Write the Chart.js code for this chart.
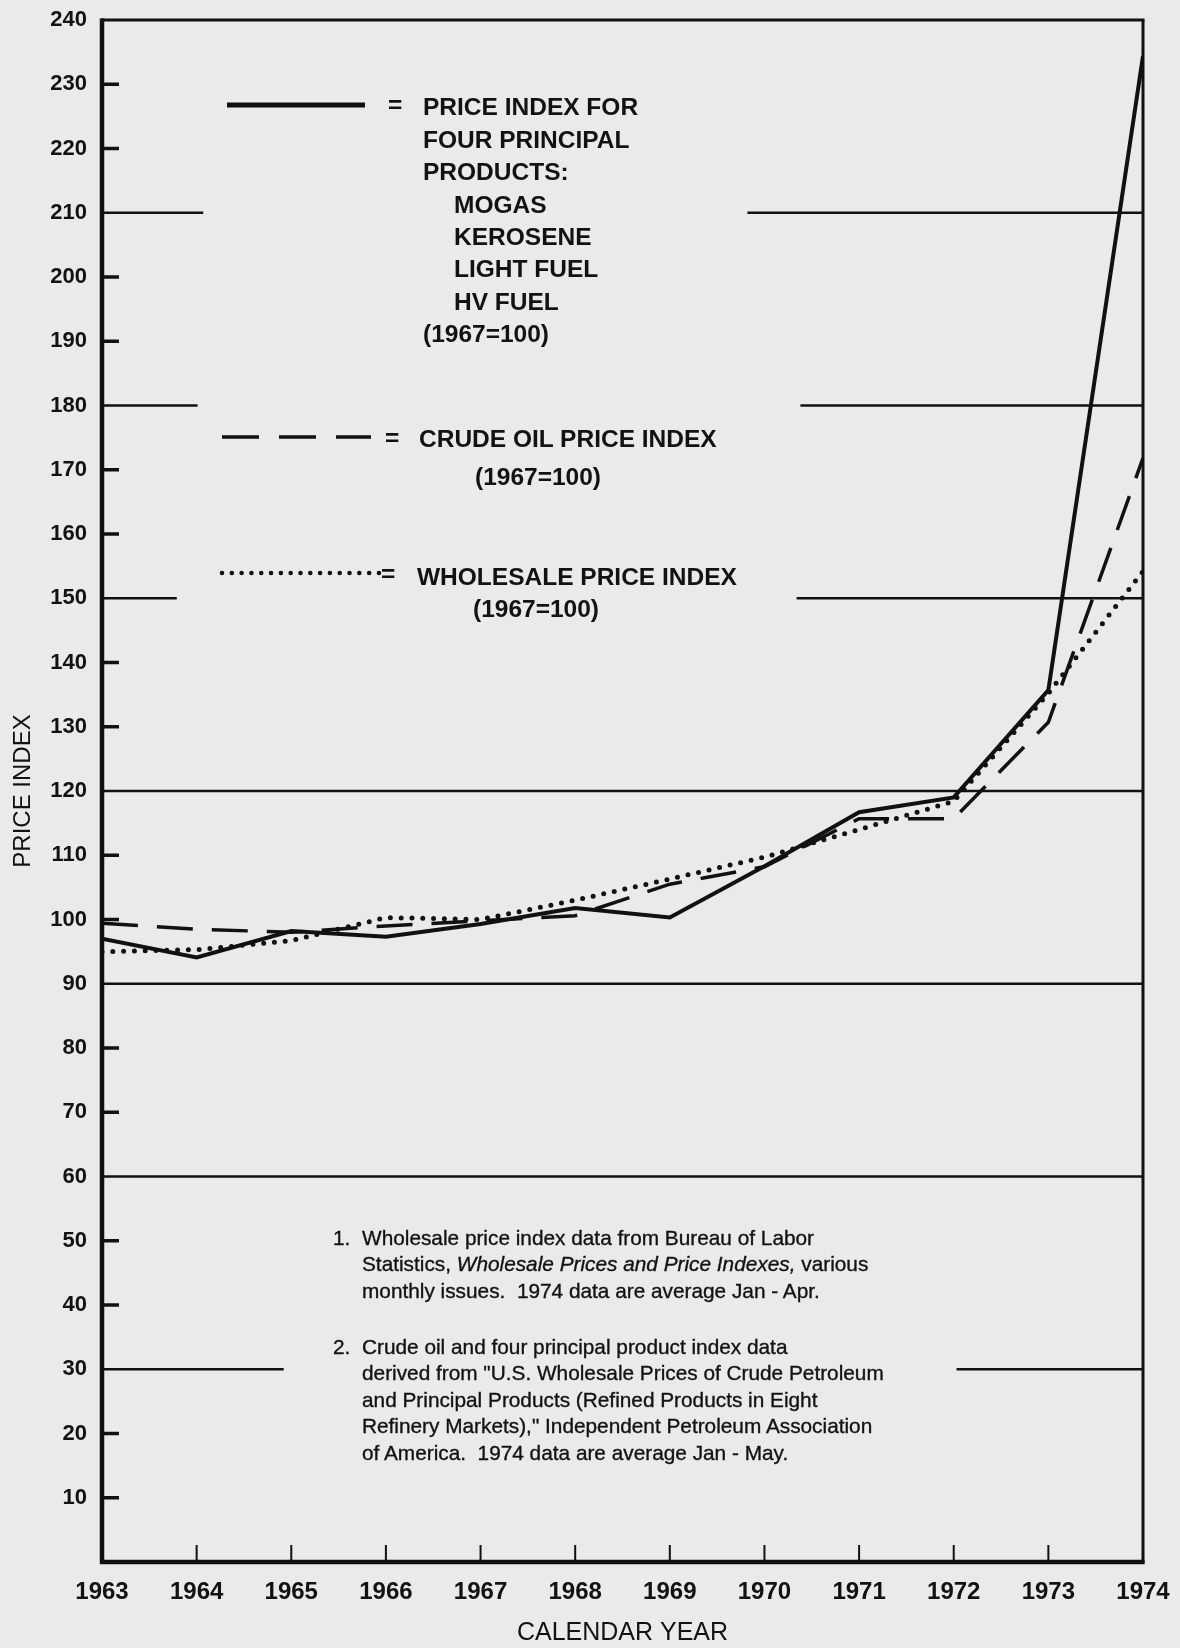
<!DOCTYPE html>
<html>
<head>
<meta charset="utf-8">
<script src="https://cdn.jsdelivr.net/npm/chart.js@4.4.1/dist/chart.umd.min.js"></script>
<style>
html,body{margin:0;padding:0;background:#eaeaea;}
#wrap{position:relative;width:1180px;height:1648px;overflow:hidden;background:#eaeaea;}
#c{position:absolute;left:0;top:0;}
.t{position:absolute;font-family:"Liberation Sans",Arial,Helvetica,sans-serif;color:#121212;white-space:nowrap;}
.leg{font-size:24.5px;font-weight:bold;line-height:32.4px;}
.fn{font-size:20.8px;line-height:26.5px;-webkit-text-stroke:0.35px #121212;}
svg{position:absolute;left:0;top:0;}
</style>
</head>
<body>
<div id="wrap">
<canvas id="c" width="1180" height="1648"></canvas>

<svg width="1180" height="700">
  <line x1="227" y1="105" x2="365" y2="105" stroke="#111" stroke-width="5"/>
  <line x1="222" y1="437" x2="371" y2="437" stroke="#111" stroke-width="3.5" stroke-dasharray="37 20"/>
  <line x1="222" y1="573" x2="379.2" y2="573" stroke="#111" stroke-width="4.6" stroke-linecap="round" stroke-dasharray="0 9.81"/>
</svg>

<div class="t leg" style="left:388px;top:89px;">=</div>
<div class="t leg" style="left:423px;top:91.3px;">PRICE INDEX FOR<br>FOUR PRINCIPAL<br>PRODUCTS:<br><span style="padding-left:31px">MOGAS</span><br><span style="padding-left:31px">KEROSENE</span><br><span style="padding-left:31px">LIGHT FUEL</span><br><span style="padding-left:31px">HV FUEL</span><br>(1967=100)</div>

<div class="t leg" style="left:385px;top:422px;">=</div>
<div class="t leg" style="left:419px;top:423.3px;">CRUDE OIL PRICE INDEX</div>
<div class="t leg" style="left:475px;top:461.3px;">(1967=100)</div>

<div class="t leg" style="left:381px;top:558px;">=</div>
<div class="t leg" style="left:417px;top:560.8px;">WHOLESALE PRICE INDEX</div>
<div class="t leg" style="left:473px;top:592.8px;">(1967=100)</div>

<div class="t fn" style="left:333px;top:1224.7px;">1.</div>
<div class="t fn" style="left:362px;top:1224.7px;">Wholesale price index data from Bureau of Labor<br>Statistics, <i>Wholesale Prices and Price Indexes,</i> various<br>monthly issues.&nbsp; 1974 data are average Jan - Apr.</div>
<div class="t fn" style="left:333px;top:1333.7px;">2.</div>
<div class="t fn" style="left:362px;top:1333.7px;">Crude oil and four principal product index data<br>derived from "U.S. Wholesale Prices of Crude Petroleum<br>and Principal Products (Refined Products in Eight<br>Refinery Markets)," Independent Petroleum Association<br>of America.&nbsp; 1974 data are average Jan - May.</div>
</div>

<script>
// ---- data ----
const years = [1963, 1964, 1965, 1966, 1967, 1968, 1969, 1970, 1971, 1972, 1973, 1974];
const productIndex   = [97.0, 94.1, 98.2, 97.3, 99.3, 101.8, 100.3, 108.3, 116.7, 119.0, 135.7, 234.4];
const crudeIndex     = [99.4, 98.5, 98.0, 99.0, 99.8, 100.6, 105.5, 108.2, 115.7, 115.7, 130.7, 171.8];
const wholesaleIndex = [95.0, 95.3, 96.7, 100.3, 100.0, 103.0, 106.3, 109.7, 114.0, 118.4, 135.2, 154.2];
const yTickValues = [10, 20, 30, 40, 50, 60, 70, 80, 90, 100, 110, 120, 130, 140, 150, 160, 170, 180, 190, 200, 210, 220, 230, 240];
const fullGridValues = [60, 90, 120];
const partialGridValues = [30, 150, 180, 210];

const FONT = '"Liberation Sans", Arial, Helvetica, sans-serif';
const toPts = arr => years.map((yr, i) => ({x: yr, y: arr[i]}));

const framePlugin = {
  id: 'frame',
  beforeDatasetsDraw(chart, args, opts) {
    const {ctx, chartArea: a, scales: {x, y}} = chart;
    ctx.save();
    ctx.strokeStyle = '#111';
    ctx.lineCap = 'butt';
    const seg = (x1, y1, x2, y2) => { ctx.beginPath(); ctx.moveTo(x1, y1); ctx.lineTo(x2, y2); ctx.stroke(); };
    ctx.lineWidth = 2.5;
    fullGridValues.forEach(v => { const py = y.getPixelForValue(v); seg(a.left, py, a.right, py); });
    partialGridValues.forEach(v => {
      const sp = opts.spans[v];
      const py = y.getPixelForValue(v);
      seg(a.left, py, x.getPixelForValue(sp[0]), py);
      seg(x.getPixelForValue(sp[1]), py, a.right, py);
    });
    ctx.lineWidth = 3.5;
    yTickValues.forEach(v => {
      if (fullGridValues.includes(v) || partialGridValues.includes(v) || v === 240) return;
      const py = y.getPixelForValue(v);
      seg(a.left, py, a.left + 17, py);
    });
    ctx.lineWidth = 2;
    years.slice(1, -1).forEach(v => {
      const px = x.getPixelForValue(v);
      seg(px, a.bottom, px, a.bottom - 17);
    });
    ctx.restore();
  },
  afterDatasetsDraw(chart) {
    const {ctx, chartArea: a} = chart;
    ctx.save();
    ctx.strokeStyle = '#111';
    const seg = (x1, y1, x2, y2, w) => { ctx.lineWidth = w; ctx.beginPath(); ctx.moveTo(x1, y1); ctx.lineTo(x2, y2); ctx.stroke(); };
    seg(a.left - 1, a.top, a.right + 1.5, a.top, 3);
    seg(a.right, a.top, a.right, a.bottom + 2, 3);
    seg(a.left, a.top - 1.5, a.left, a.bottom + 2, 4.5);
    seg(a.left - 2, a.bottom, a.right + 1.5, a.bottom, 4.5);
    ctx.restore();
  }
};

new Chart(document.getElementById('c'), {
  type: 'line',
  data: {
    datasets: [
      {label: 'PRICE INDEX FOR FOUR PRINCIPAL PRODUCTS', data: toPts(productIndex), borderColor: '#111', borderWidth: 4, pointRadius: 0, tension: 0, fill: false, borderJoinStyle: 'miter'},
      {label: 'CRUDE OIL PRICE INDEX', data: toPts(crudeIndex), borderColor: '#111', borderWidth: 3.5, borderDash: [36, 19], pointRadius: 0, tension: 0, fill: false},
      {label: 'WHOLESALE PRICE INDEX', data: toPts(wholesaleIndex), borderColor: '#111', borderWidth: 5, borderDash: [0, 10.8], borderCapStyle: 'round', pointRadius: 0, tension: 0, fill: false}
    ]
  },
  options: {
    responsive: false,
    animation: false,
    devicePixelRatio: 1,
    layout: {padding: {left: 0, top: 20, right: 37, bottom: 0}},
    plugins: {
      legend: {display: false},
      tooltip: {enabled: false},
      frame: {spans: {30: [1964.92, 1972.03], 150: [1963.79, 1970.34], 180: [1964.01, 1970.38], 210: [1964.07, 1969.82]}}
    },
    scales: {
      x: {
        type: 'linear', min: 1963, max: 1974,
        afterBuildTicks: s => { s.ticks = years.map(v => ({value: v})); },
        afterFit: s => { s.height = 86; s.paddingLeft = 0; s.paddingRight = 0; },
        grid: {display: false, drawTicks: false},
        border: {display: false},
        ticks: {font: {family: FONT, weight: 'bold', size: 24}, color: '#121212', padding: 16, autoSkip: false, maxRotation: 0, callback: v => String(v)},
        title: {display: true, text: 'CALENDAR YEAR', font: {family: FONT, size: 25}, color: '#121212', padding: {top: 0, bottom: 0}}
      },
      y: {
        type: 'linear', min: 0, max: 240,
        afterBuildTicks: s => { s.ticks = yTickValues.map(v => ({value: v})); },
        afterFit: s => { s.width = 102; s.paddingTop = 0; s.paddingBottom = 0; },
        grid: {display: false, drawTicks: false},
        border: {display: false},
        ticks: {font: {family: FONT, weight: 'bold', size: 22}, color: '#121212', padding: 15, autoSkip: false, callback: v => String(v)},
        title: {display: true, text: 'PRICE INDEX', font: {family: FONT, size: 24}, color: '#121212', padding: {top: 9, bottom: 0}}
      }
    }
  },
  plugins: [framePlugin]
});
</script>
</body>
</html>
